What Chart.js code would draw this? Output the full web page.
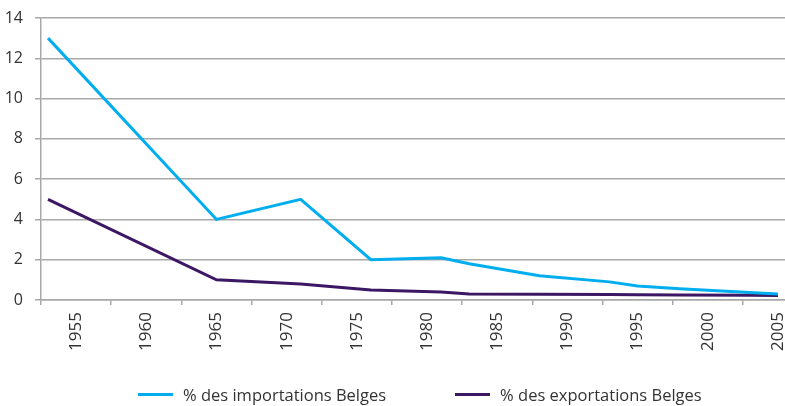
<!DOCTYPE html>
<html>
<head>
<meta charset="utf-8">
<title>Importations et exportations</title>
<script src="https://cdn.jsdelivr.net/npm/chart.js"></script>
<style>
  body { margin: 0; background: #fff; }
  #wrap { position: relative; width: 785px; height: 406px; }
  #legend { position: absolute; left: 138px; top: 383px; display: flex; font: 16.5px "Open Sans", sans-serif; color: #333; }
  .item { display: flex; align-items: center; margin-right: 69px; }
  .swatch { width: 35px; height: 3px; margin-right: 10px; }
</style>
</head>
<body>
<div id="wrap">
  <canvas id="chart" width="785" height="406"></canvas>
  <div id="legend"></div>
</div>
<script>
// annees des observations
const years = [1953, 1965, 1971, 1976, 1981, 1983, 1988, 1993, 1995, 1998, 2003, 2005];
const importsPct = [13, 4, 5, 2, 2.1, 1.8, 1.2, 0.9, 0.7, 0.56, 0.37, 0.3];
const exportsPct = [5, 1, 0.8, 0.5, 0.4, 0.3, 0.29, 0.27, 0.26, 0.25, 0.23, 0.22];

const labelYears = [1955, 1960, 1965, 1970, 1975, 1980, 1985, 1990, 1995, 2000, 2005];
const markYears = [1952.5, 1957.5, 1962.5, 1967.5, 1972.5, 1977.5, 1982.5, 1987.5, 1992.5, 1997.5, 2002.5];
const yTicks = [0, 2, 4, 6, 8, 10, 12, 14];

const seriesNames = ['% des importations Belges', '% des exportations Belges'];
const gridGray = '#a8a8a8';
const textColor = '#333333';
const font = { family: '"Open Sans", sans-serif', size: 16 };
const xFont = { family: '"Open Sans", sans-serif', size: 17 };

function points(vals) {
  return years.map((yr, i) => ({ x: yr, y: vals[i] }));
}

const chart = new Chart(document.getElementById('chart'), {
  type: 'line',
  data: {
    datasets: [
      { label: seriesNames[0], data: points(importsPct), borderColor: '#00aeef', backgroundColor: '#00aeef', borderWidth: 3, pointRadius: 0, tension: 0 },
      { label: seriesNames[1], data: points(exportsPct), borderColor: '#3b1764', backgroundColor: '#3b1764', borderWidth: 3, pointRadius: 0, tension: 0 }
    ]
  },
  options: {
    responsive: false,
    animation: false,
    layout: { padding: { top: 18, left: 0, right: 0, bottom: 0 } },
    plugins: { legend: { display: false }, tooltip: { enabled: false } },
    scales: {
      x: {
        type: 'linear',
        min: 1952.5,
        max: 2005.5,
        afterBuildTicks: s => {
          s.ticks = markYears.concat(labelYears).sort((a, b) => a - b).map(v => ({ value: v }));
        },
        ticks: {
          autoSkip: false, minRotation: 90, maxRotation: 90, padding: 7,
          font: xFont, color: textColor,
          callback: v => labelYears.includes(v) ? String(v) : ''
        },
        grid: {
          drawOnChartArea: false, tickLength: 5, lineWidth: 1.5,
          color: c => (c.tick && labelYears.includes(c.tick.value)) ? 'rgba(0,0,0,0)' : gridGray
        },
        border: { color: gridGray, width: 1.5 },
        afterFit: s => { s.height = 106; s.paddingLeft = 0; s.paddingRight = 0; }
      },
      y: {
        min: 0,
        max: 14,
        afterBuildTicks: s => { s.ticks = yTicks.map(v => ({ value: v })); },
        ticks: { padding: 12, font: font, color: textColor },
        grid: { color: gridGray, lineWidth: 1.5, tickLength: 6 },
        border: { color: gridGray, width: 1.5 },
        afterFit: s => { s.width = 41; s.paddingTop = 0; s.paddingBottom = 0; }
      }
    }
  }
});

// legende
const legend = document.getElementById('legend');
chart.data.datasets.forEach(ds => {
  const item = document.createElement('div');
  item.className = 'item';
  const sw = document.createElement('span');
  sw.className = 'swatch';
  sw.style.background = ds.borderColor;
  const txt = document.createElement('span');
  txt.textContent = ds.label;
  item.appendChild(sw);
  item.appendChild(txt);
  legend.appendChild(item);
});
</script>
</body>
</html>
